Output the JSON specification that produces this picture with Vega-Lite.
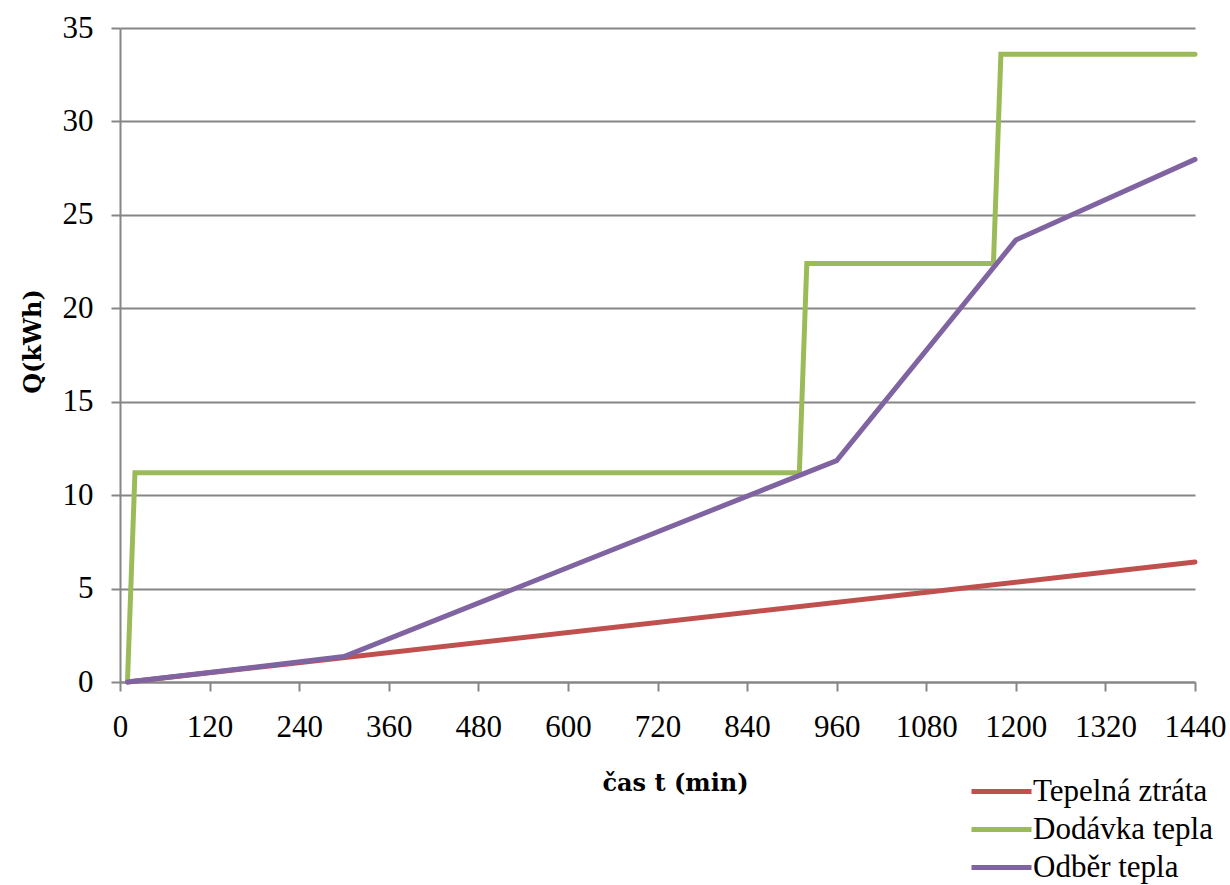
{
  "$schema": "https://vega.github.io/schema/vega-lite/v6.json",
  "autosize": {"type": "none"},
  "width": 1075,
  "height": 654,
  "padding": {"left": 120, "top": 28, "right": 35, "bottom": 203},
  "background": "white",
  "config": {
    "font": "Liberation Serif",
    "view": {"stroke": null}
  },
  "data": {
    "values": [
      {"t": 10, "Q": 0, "serie": "Tepelná ztráta"},
      {"t": 1440, "Q": 6.42, "serie": "Tepelná ztráta"},
      {"t": 10, "Q": 0, "serie": "Dodávka tepla"},
      {"t": 20, "Q": 11.2, "serie": "Dodávka tepla"},
      {"t": 910, "Q": 11.2, "serie": "Dodávka tepla"},
      {"t": 920, "Q": 22.4, "serie": "Dodávka tepla"},
      {"t": 1170, "Q": 22.4, "serie": "Dodávka tepla"},
      {"t": 1180, "Q": 33.6, "serie": "Dodávka tepla"},
      {"t": 1440, "Q": 33.6, "serie": "Dodávka tepla"},
      {"t": 10, "Q": 0, "serie": "Odběr tepla"},
      {"t": 300, "Q": 1.36, "serie": "Odběr tepla"},
      {"t": 960, "Q": 11.85, "serie": "Odběr tepla"},
      {"t": 1200, "Q": 23.65, "serie": "Odběr tepla"},
      {"t": 1440, "Q": 27.97, "serie": "Odběr tepla"}
    ]
  },
  "mark": {"type": "line", "strokeWidth": 5, "strokeCap": "round", "strokeJoin": "miter"},
  "encoding": {
    "x": {
      "field": "t",
      "type": "quantitative",
      "scale": {"domain": [0, 1440], "nice": false, "zero": true},
      "axis": {
        "title": "čas t (min)",
        "format": "d",
        "values": [0, 120, 240, 360, 480, 600, 720, 840, 960, 1080, 1200, 1320, 1440],
        "grid": false,
        "domainColor": "#868686",
        "domainWidth": 2,
        "tickColor": "#868686",
        "tickWidth": 2,
        "tickSize": 9,
        "labelFont": "Liberation Serif",
        "labelFontSize": 31,
        "labelColor": "black",
        "labelPadding": 21,
        "labelFlush": false,
        "titleFont": "DejaVu Serif",
        "titleFontSize": 24,
        "titleFontWeight": "bold",
        "titleColor": "black",
        "titlePadding": 29,
        "titleX": 555
      }
    },
    "y": {
      "field": "Q",
      "type": "quantitative",
      "scale": {"domain": [0, 35], "nice": false},
      "axis": {
        "title": "Q(kWh)",
        "values": [0, 5, 10, 15, 20, 25, 30, 35],
        "grid": true,
        "gridColor": "#868686",
        "gridWidth": 2,
        "domainColor": "#868686",
        "domainWidth": 2,
        "tickColor": "#868686",
        "tickWidth": 2,
        "tickSize": 9,
        "labelFont": "Liberation Serif",
        "labelFontSize": 31,
        "labelColor": "black",
        "labelPadding": 18,
        "labelFlush": false,
        "titleFont": "DejaVu Serif",
        "titleFontSize": 24,
        "titleFontWeight": "bold",
        "titleColor": "black",
        "titlePadding": 17,
        "titleY": 313
      }
    },
    "color": {
      "field": "serie",
      "type": "nominal",
      "sort": ["Tepelná ztráta", "Dodávka tepla", "Odběr tepla"],
      "scale": {
        "domain": ["Tepelná ztráta", "Dodávka tepla", "Odběr tepla"],
        "range": ["#C0504D", "#9BBB59", "#8064A2"]
      },
      "legend": {
        "title": null,
        "orient": "none",
        "legendX": 864,
        "legendY": 746,
        "symbolType": "M-2,0H2",
        "symbolSize": 900,
        "symbolStrokeWidth": 5,
        "symbolStrokeColor": {"expr": "scale('color', datum.value)"},
        "labelFont": "Liberation Serif",
        "labelFontSize": 31,
        "labelColor": "black",
        "labelOffset": 14,
        "rowPadding": 5,
        "labelLimit": 400
      }
    }
  }
}
